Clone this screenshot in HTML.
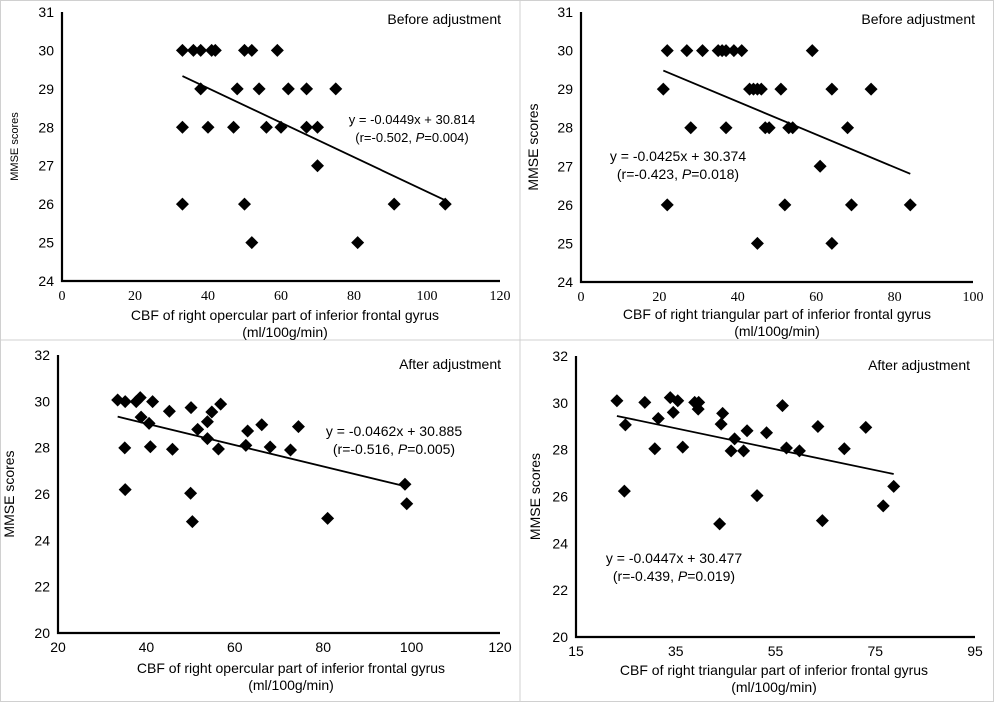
<!DOCTYPE html>
<html><head><meta charset="utf-8"><style>
body{margin:0;background:#fff;}
svg{display:block;font-family:"Liberation Sans",sans-serif;}
</style></head><body>
<svg id="fig" width="994" height="702" viewBox="0 0 994 702">
<rect x="0.5" y="0.5" width="993" height="701" fill="#fff" stroke="#d0d0d0"/>
<line x1="520" y1="0" x2="520" y2="702" stroke="#d0d0d0"/>
<line x1="0" y1="340" x2="994" y2="340" stroke="#d0d0d0"/>
</svg>
<script>
const NS="http://www.w3.org/2000/svg";
const svg=document.getElementById('fig');
// Panel A: before adjustment, opercular
const aX=[33,36,38,41,42,50,52,59, 38,48,54,62,67,75, 33,40,47,56,60,67,70, 70, 33,50,91,105, 52,81];
const aY=[30,30,30,30,30,30,30,30, 29,29,29,29,29,29, 28,28,28,28,28,28,28, 27, 26,26,26,26, 25,25];
const aXTicks=[0,20,40,60,80,100,120];
const aYTicks=[24,25,26,27,28,29,30,31];
const aFit=[-0.0449,30.814];
// Panel B: before adjustment, triangular
const bX=[22,27,31,35,36,37,39,41,59, 21,43,44,45,46,51,64,74, 28,37,47,48,53,54,68, 61, 22,52,69,84, 45,64];
const bY=[30,30,30,30,30,30,30,30,30, 29,29,29,29,29,29,29,29, 28,28,28,28,28,28,28, 27, 26,26,26,26, 25,25];
const bXTicks=[0,20,40,60,80,100];
const bYTicks=[24,25,26,27,28,29,30,31];
const bFit=[-0.0425,30.374];
// Panel C: after adjustment, opercular
const cX=[33.5,35.2,37.7,38.6,41.4,38.8,40.6,35.1,40.9,45.2,45.9,35.2,50.1,50.0,50.4,51.6,53.8,53.8,54.8,56.3,56.8,62.5,62.9,66.1,68.0,72.6,74.4,81.0,98.5,98.9];
const cY=[30.06,29.99,29.99,30.16,29.99,29.32,29.05,27.99,28.04,29.57,27.93,26.19,29.73,26.03,24.81,28.79,29.12,28.39,29.54,27.94,29.88,28.10,28.72,28.99,28.03,27.90,28.91,24.95,26.42,25.58];
const cXTicks=[20,40,60,80,100,120];
const cYTicks=[20,22,24,26,28,30,32];
const cFit=[-0.0462,30.885];
// Panel D: after adjustment, triangular
const dX=[23.2,24.9,24.7,28.8,31.5,30.8,33.9,34.5,35.4,36.4,38.8,39.6,39.5,44.4,44.1,43.8,46.8,46.1,48.6,49.3,51.3,53.2,56.4,57.2,59.8,63.5,64.4,68.8,73.1,76.6,78.7];
const dY=[30.09,29.06,26.23,30.02,29.33,28.04,30.22,29.59,30.09,28.11,30.02,30.02,29.73,29.55,29.09,24.83,28.46,27.95,27.95,28.81,26.04,28.72,29.88,28.07,27.95,28.99,24.97,28.04,28.95,25.60,26.43];
const dXTicks=[15,35,55,75,95];
const dYTicks=[20,22,24,26,28,30,32];
const dFit=[-0.0447,30.477];

function el(tag,attrs,parent,text){const e=document.createElementNS(NS,tag);for(const k in attrs)e.setAttribute(k,attrs[k]);if(text!==undefined)e.textContent=text;(parent||svg).appendChild(e);return e;}

function panel(o){
  const g=el('g',{});
  
  
  const xs=v=>o.x0+(v-o.xmin)/(o.xmax-o.xmin)*(o.x1-o.x0);
  const ys=v=>o.y0-(v-o.ymin)/(o.ymax-o.ymin)*(o.y0-o.y1);
  const ax=el('polyline',{points:`${o.x0},${o.y1} ${o.x0},${o.y0} ${o.x1},${o.y0}`,fill:'none',stroke:'#000','stroke-width':2.2},g);
  
  
  o.yt.forEach(v=>{const t=el('text',{x:o.x0-8,y:ys(v)+5,'text-anchor':'end','font-size':14},g,v);
    
    });
  o.xt.forEach(v=>{const t=el('text',{x:xs(v),y:o.y0+19,'text-anchor':'middle','font-size':o.xtFs||14,'font-family':o.xtFont||'Liberation Sans'},g,v);
    
    });
  o.xs.forEach((v,i)=>{const cx=xs(v),cy=ys(o.ys[i]),r=6.5;
    const p=el('polygon',{points:`${cx},${cy-r} ${cx+r},${cy} ${cx},${cy+r} ${cx-r},${cy}`,fill:'#000'},g);
    
    });
  const fx0=Math.min(...o.xs),fx1=Math.max(...o.xs);
  const ln=el('line',{x1:xs(fx0),y1:ys(o.fit[0]*fx0+o.fit[1]),x2:xs(fx1),y2:ys(o.fit[0]*fx1+o.fit[1]),stroke:'#000','stroke-width':1.8},g);
  
  
  const ttl=el('text',{x:o.tx,y:o.ty,'text-anchor':'end','font-size':14},g,o.title);
  
  
  const e1=el('text',{x:o.ex,y:o.ey,'text-anchor':'middle','font-size':o.efs||14},g,o.eq);
  
  
  const e2=el('text',{x:o.ex,y:o.ey+18,'text-anchor':'middle','font-size':o.efs||14},g);
  
  
  e2.innerHTML=`(r=${o.r}, <tspan font-style="italic">P</tspan>=${o.p})`;
  const yl=el('text',{transform:`translate(${o.ylx},${(o.y0+o.y1)/2}) rotate(-90)`,'text-anchor':'middle','font-size':o.ylfs||14},g,'MMSE scores');
  
  
  const xl1=el('text',{x:o.xlx,y:o.xly,'text-anchor':'middle','font-size':14},g,o.xlabel);
  
  
  const xl2=el('text',{x:o.xlx,y:o.xly+17,'text-anchor':'middle','font-size':14},g,'(ml/100g/min)');
  
  
}
panel({name:'panel-before-opercular',x0:62,x1:500,y0:281,y1:12,xmin:0,xmax:120,ymin:24,ymax:31,xs:aX,ys:aY,xt:aXTicks,yt:aYTicks,fit:aFit,
  xtFont:'Liberation Serif',title:'Before adjustment',tx:501,ty:24,eq:'y = -0.0449x + 30.814',r:'-0.502',p:'0.004',ex:412,ey:124,efs:13,
  ylx:18,ylfs:11,xlabel:'CBF of right opercular part of inferior frontal gyrus',xlx:285,xly:320});
panel({name:'panel-before-triangular',x0:581,x1:973,y0:282,y1:12,xmin:0,xmax:100,ymin:24,ymax:31,xs:bX,ys:bY,xt:bXTicks,yt:bYTicks,fit:bFit,
  xtFont:'Liberation Serif',title:'Before adjustment',tx:975,ty:24,eq:'y = -0.0425x + 30.374',r:'-0.423',p:'0.018',ex:678,ey:161,
  ylx:538,xlabel:'CBF of right triangular part of inferior frontal gyrus',xlx:777,xly:319});
panel({name:'panel-after-opercular',x0:58,x1:500,y0:633,y1:355,xmin:20,xmax:120,ymin:20,ymax:32,xs:cX,ys:cY,xt:cXTicks,yt:cYTicks,fit:cFit,
  title:'After adjustment',tx:501,ty:369,eq:'y = -0.0462x + 30.885',r:'-0.516',p:'0.005',ex:394,ey:436,
  ylx:14,xlabel:'CBF of right opercular part of inferior frontal gyrus',xlx:291,xly:673});
panel({name:'panel-after-triangular',x0:576,x1:975,y0:637,y1:356,xmin:15,xmax:95,ymin:20,ymax:32,xs:dX,ys:dY,xt:dXTicks,yt:dYTicks,fit:dFit,
  title:'After adjustment',tx:970,ty:370,eq:'y = -0.0447x + 30.477',r:'-0.439',p:'0.019',ex:674,ey:563,
  ylx:540,xlabel:'CBF of right triangular part of inferior frontal gyrus',xlx:774,xly:675});
</script>
</body></html>
